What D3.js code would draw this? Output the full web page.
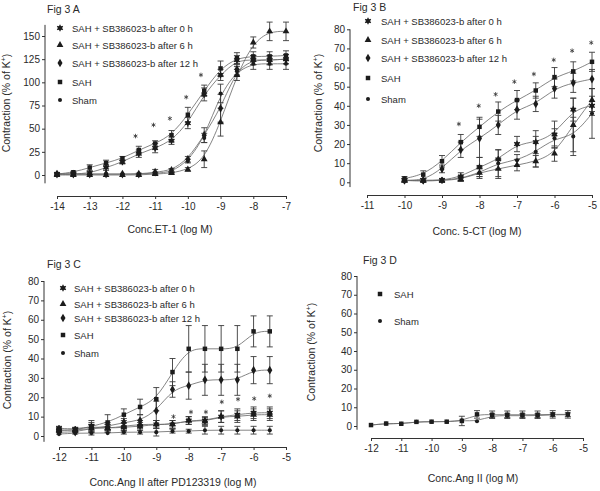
<!DOCTYPE html>
<html><head><meta charset="utf-8">
<script src="https://cdn.jsdelivr.net/npm/d3@7"></script>
<style>
body{margin:0;background:#fff;}
text{font-family:"Liberation Sans",Arial,sans-serif;fill:#2a2a2a;}
</style></head><body>
<script>
// ---------- DATA ----------
const seriesNames = ["SAH + SB386023-b after 0 h","SAH + SB386023-b after 6 h","SAH + SB386023-b after 12 h","SAH","Sham"];

// Panel A (ET-1)
const xA = [-14,-13.5,-13,-12.5,-12,-11.5,-11,-10.5,-10,-9.5,-9,-8.5,-8,-7.5,-7];
const a0h   = [1,1,2,8,14,23,29,37,56,87,108,124,124,124,125];
const a0hE  = [1,1,2,3,2,4,5,4,6,7,6,5,5,5,5];
const a6h   = [0,0,0,0,0,0,1,2,6,17,57,108,143,155,155];
const a6hE  = [0,0,0,0,0,0,1,1,2,9,15,6,6,10,10];
const a12h  = [1,1,1,1,1,1,3,5,17,43,72,114,124,124,125];
const a12hE = [0,0,0,0,0,1,3,2,3,8,15,6,5,5,5];
const aSAH  = [1,3,8,13,18,27,34,43,65,91,115,126,128,128,129];
const aSAHE = [1,1,3,3,2,4,3,5,8,6,8,6,5,5,5];
const aSham = [1,1,1,1,1,1,2,3,15,40,88,112,120,120,120];
const aShamE= [0,0,0,0,0,0,1,1,2,5,10,5,6,6,6];
const starAx = [-11.6,-11.05,-10.55,-10.05,-9.6];
const starAy = [42,54,61,84,108];
const xTicksA = [-14,-13,-12,-11,-10,-9,-8,-7];
const yTicksA = [0,25,50,75,100,125,150];

// Panel B (5-CT)
const xB = [-10,-9.5,-9,-8.5,-8,-7.5,-7,-6.5,-6,-5.5,-5];
const b0h   = [1,1,1,3,8,12,20,21,25,38,40];
const b0hE  = [1,1,1,2,5,5,4,6,7,6,5];
const b6h   = [1,1,1,1.5,5,7,9,11,15,30,43];
const b6hE  = [0,0,1,1,3,5,3,3,4,14,6];
const b12h  = [1,1,7,17,23,30,38,41,49,52,54];
const b12hE = [1,1,2,4,10,5,5,4,5,5,5];
const bSAH  = [2,4,11,21,29,37,43,48,55,58,63];
const bSAHE = [1,2,3,4,5,5,5,4,5,5,5];
const bSham = [1,0.5,1,2,5,10,11.5,16,23,24,36];
const bShamE= [0,0,1,1,2,7,3,8,5,10,13];
const starBx = [-8.55,-8.02,-7.57,-7.07,-6.55,-6.02,-5.53,-5.02];
const starBy = [30.5,40,46,52.6,56.6,64,68.8,73];
const xTicksB = [-11,-10,-9,-8,-7,-6,-5];
const yTicksB = [0,10,20,30,40,50,60,70,80];

// Panel C (Ang II after PD123319)
const xC = [-12,-11.5,-11,-10.5,-10,-9.5,-9,-8.5,-8,-7.5,-7,-6.5,-6,-5.5];
const c0h   = [4,3.5,5,4,4.5,5,6,6,8,8,10,11,12,12];
const c0hE  = [1,1,3,2,2,2,2,2,2,2,3,3,3,3];
const c6h   = [3,3,4,4,5,6,6,6,8,7.5,10,10,11,11];
const c6hE  = [1,1,2,2,2,2,2,2,2,2,3,3,3,3];
const c12h  = [2,2,4,5,7,8,13,24,26,29,29,29,34,34];
const c12hE = [1,1,2,2,2,3,5,4,7,8,8,8,7,7];
const cSAH  = [3,3,5,7,11,15,19,33,45,45,45,45,54,54];
const cSAHE = [1,1,2,4,3,4,6,7,12,12,12,12,8,8];
const cSham = [1,1.5,1.5,1.5,2,2,2,2.5,2.5,3,3,3,3,3];
const cShamE= [0,0,1,0,1,1,2,1,1,2,2,2,2,2];
const starCx = [-8.47,-7.93,-7.47,-6.98,-6.48,-5.98,-5.5];
const starCy = [10,12.4,12.4,17.6,19,19.3,20.7];
const xTicksC = [-12,-11,-10,-9,-8,-7,-6,-5];
const yTicksC = [0,10,20,30,40,50,60,70,80];

// Panel D (Ang II)
const xD = [-12,-11.5,-11,-10.5,-10,-9.5,-9,-8.5,-8,-7.5,-7,-6.5,-6,-5.5];
const dSAH  = [0.5,1.3,1.2,2.2,2.3,2.3,2.7,6.2,6,6,6,6,6.2,6.2];
const dSAHE = [0,0,0,0,0,0,2.5,2,2,2,2,2,2,2];
const dSham = [0.5,1.3,1.2,2.2,2.3,2.3,3,2.5,5.5,5.5,5.5,5.5,6,6];
const dShamE= [0,0,0,0,0,0,0,0,1,1,1,1,1,1];
const xTicksD = [-12,-11,-10,-9,-8,-7,-6,-5];
const yTicksD = [0,10,20,30,40,50,60,70,80];

// ---------- DRAW ----------
const svg = d3.select("body").append("svg").attr("width",600).attr("height",491);
svg.append("rect").attr("width",600).attr("height",491).attr("fill","#fff");

const markColor = "#1c1c1c";
function drawMarker(g, kind, cx, cy){
  const t = `translate(${cx},${cy})`;
  if(kind==="0h"){
    g.append("path").attr("d",d3.symbol(d3.symbolCircle,16)()).attr("transform",t).attr("fill",markColor);
    g.append("path").attr("d",d3.symbol(d3.symbolAsterisk,30)()).attr("transform",t).attr("fill","none").attr("stroke",markColor).attr("stroke-width",1.3);
  } else if(kind==="6h"){
    g.append("path").attr("d",d3.symbol(d3.symbolTriangle,20)()).attr("transform",t).attr("fill",markColor);
  } else if(kind==="12h"){
    g.append("path").attr("d",d3.symbol(d3.symbolDiamond,22)()).attr("transform",t).attr("fill",markColor);
  } else if(kind==="SAH"){
    g.append("path").attr("d",d3.symbol(d3.symbolSquare,20)()).attr("transform",t).attr("fill",markColor);
  } else {
    g.append("path").attr("d",d3.symbol(d3.symbolCircle,13)()).attr("transform",t).attr("fill",markColor);
  }
}

function panel(cfg){
  const g = svg.append("g");
  const x = d3.scaleLinear().domain(cfg.xDom).range(cfg.xRange);
  const y = d3.scaleLinear().domain([0,cfg.yRef]).range([cfg.y0px,cfg.yRefPx]);

  // y axis
  const ya = g.append("g").attr("transform",`translate(${cfg.yAxisX},0)`)
    .call(d3.axisLeft(y).tickValues(cfg.yTicks).tickSize(3).tickSizeOuter(0).tickPadding(2).tickFormat(d=>String(d)));
  ya.select(".domain").remove();
  ya.append("line").attr("x1",0).attr("x2",0).attr("y1",y(cfg.yLineMin)).attr("y2",y(cfg.yLineMax)).attr("stroke","#333");
  ya.selectAll(".tick line").attr("stroke","#333");
  ya.selectAll(".tick text").attr("font-size",10).attr("fill","#2a2a2a").attr("font-family","Liberation Sans, Arial, sans-serif");

  // x axis
  const xa = g.append("g").attr("transform",`translate(0,${cfg.xAxisY})`)
    .call(d3.axisBottom(x).tickValues(cfg.xTicks).tickSize(3).tickSizeOuter(0).tickPadding(4).tickFormat(d=>String(d)));
  xa.select(".domain").attr("stroke","#333");
  xa.selectAll(".tick line").attr("stroke","#333");
  xa.selectAll(".tick text").attr("font-size",10).attr("fill","#2a2a2a").attr("font-family","Liberation Sans, Arial, sans-serif");

  // titles
  g.append("text").attr("x",cfg.figX).attr("y",cfg.figY).attr("font-size",10.5).text(cfg.fig);
  g.append("text").attr("x",cfg.xtX).attr("y",cfg.xtY).attr("text-anchor","middle").attr("font-size",10.5).text(cfg.xTitle);
  const yt = g.append("text").attr("transform",`translate(${cfg.ytX},${cfg.ytY}) rotate(-90)`).attr("text-anchor","middle").attr("font-size",10.5);
  yt.append("tspan").text("Contraction (% of K");
  yt.append("tspan").attr("font-size",7).attr("dy",-4).text("+");
  yt.append("tspan").attr("dy",4).text(")");

  // curves
  const line = d3.line().x(d=>x(d[0])).y(d=>y(d[1])).curve(d3.curveBasis);
  cfg.series.forEach(s=>{
    g.append("path").datum(cfg.xs.map((v,i)=>[v,s.v[i]])).attr("d",line)
      .attr("fill","none").attr("stroke","#666").attr("stroke-width",0.8);
  });
  // error bars
  cfg.series.forEach(s=>{
    cfg.xs.forEach((v,i)=>{
      const e = s.e[i]; if(!e) return;
      const cx = x(v), t = y(s.v[i]+e), b = y(s.v[i]-e);
      g.append("line").attr("x1",cx).attr("x2",cx).attr("y1",t).attr("y2",b).attr("stroke","#3a3a3a").attr("stroke-width",0.9);
      g.append("line").attr("x1",cx-3).attr("x2",cx+3).attr("y1",t).attr("y2",t).attr("stroke","#3a3a3a").attr("stroke-width",0.9);
      g.append("line").attr("x1",cx-3).attr("x2",cx+3).attr("y1",b).attr("y2",b).attr("stroke","#3a3a3a").attr("stroke-width",0.9);
    });
  });
  // markers
  cfg.series.forEach(s=>{
    cfg.xs.forEach((v,i)=>drawMarker(g,s.k,x(v),y(s.v[i])));
  });
  // significance asterisks (drawn as small star paths)
  if(cfg.sx){
    cfg.sx.forEach((v,i)=>{
      g.append("path").attr("d",d3.symbol(d3.symbolAsterisk,14)())
        .attr("transform",`translate(${x(v)},${y(cfg.sy[i])})`)
        .attr("fill","none").attr("stroke","#333").attr("stroke-width",0.8);
    });
  }
  // legend
  cfg.legend.forEach((l,i)=>{
    const ly = cfg.legY[i];
    drawMarker(g,l.k,cfg.legMX,ly);
    g.append("text").attr("x",cfg.legTX).attr("y",ly+3.5).attr("font-size",9.5).text(l.name);
  });
}

const legend5 = [{k:"0h",name:seriesNames[0]},{k:"6h",name:seriesNames[1]},{k:"12h",name:seriesNames[2]},{k:"SAH",name:seriesNames[3]},{k:"Sham",name:seriesNames[4]}];

panel({
  fig:"Fig 3 A", figX:47, figY:13,
  xDom:[-14,-7], xRange:[57,286], yRef:150, y0px:175, yRefPx:36,
  yAxisX:45, yLineMin:-9, yLineMax:162, xAxisY:196,
  xTicks:xTicksA, yTicks:yTicksA,
  xTitle:"Conc.ET-1 (log M)", xtX:170, xtY:233, ytX:10, ytY:103,
  xs:xA,
  series:[{k:"Sham",v:aSham,e:aShamE},{k:"6h",v:a6h,e:a6hE},{k:"12h",v:a12h,e:a12hE},{k:"0h",v:a0h,e:a0hE},{k:"SAH",v:aSAH,e:aSAHE}],
  sx:starAx, sy:starAy,
  legend:legend5, legMX:60, legTX:72, legY:[28,45,63,82,100]
});

panel({
  fig:"Fig 3 B", figX:353, figY:11,
  xDom:[-11,-5], xRange:[367,592], yRef:80, y0px:182.3, yRefPx:29.3,
  yAxisX:350, yLineMin:-2.5, yLineMax:80, xAxisY:195,
  xTicks:xTicksB, yTicks:yTicksB,
  xTitle:"Conc. 5-CT (log M)", xtX:477, xtY:235, ytX:322, ytY:103,
  xs:xB,
  series:[{k:"Sham",v:bSham,e:bShamE},{k:"6h",v:b6h,e:b6hE},{k:"0h",v:b0h,e:b0hE},{k:"12h",v:b12h,e:b12hE},{k:"SAH",v:bSAH,e:bSAHE}],
  sx:starBx, sy:starBy,
  legend:legend5, legMX:368, legTX:381, legY:[21,40,58,78,99]
});

panel({
  fig:"Fig 3 C", figX:47, figY:268,
  xDom:[-12,-5], xRange:[59,286], yRef:80, y0px:436, yRefPx:281,
  yAxisX:44, yLineMin:-3, yLineMax:80, xAxisY:447,
  xTicks:xTicksC, yTicks:yTicksC,
  xTitle:"Conc.Ang II after PD123319 (log M)", xtX:173, xtY:486, ytX:11, ytY:360,
  xs:xC,
  series:[{k:"Sham",v:cSham,e:cShamE},{k:"6h",v:c6h,e:c6hE},{k:"0h",v:c0h,e:c0hE},{k:"12h",v:c12h,e:c12hE},{k:"SAH",v:cSAH,e:cSAHE}],
  sx:starCx, sy:starCy,
  legend:legend5, legMX:63, legTX:74, legY:[288,304,318,335,353]
});

panel({
  fig:"Fig 3 D", figX:363, figY:264,
  xDom:[-12,-5], xRange:[371,583], yRef:80, y0px:426, yRefPx:276,
  yAxisX:357, yLineMin:-2, yLineMax:80, xAxisY:438,
  xTicks:xTicksD, yTicks:yTicksD,
  xTitle:"Conc.Ang II (log M)", xtX:473, xtY:482, ytX:315, ytY:352,
  xs:xD,
  series:[{k:"Sham",v:dSham,e:dShamE},{k:"SAH",v:dSAH,e:dSAHE}],
  legend:[{k:"SAH",name:"SAH"},{k:"Sham",name:"Sham"}], legMX:380, legTX:394, legY:[294,321]
});
</script>
</body></html>
